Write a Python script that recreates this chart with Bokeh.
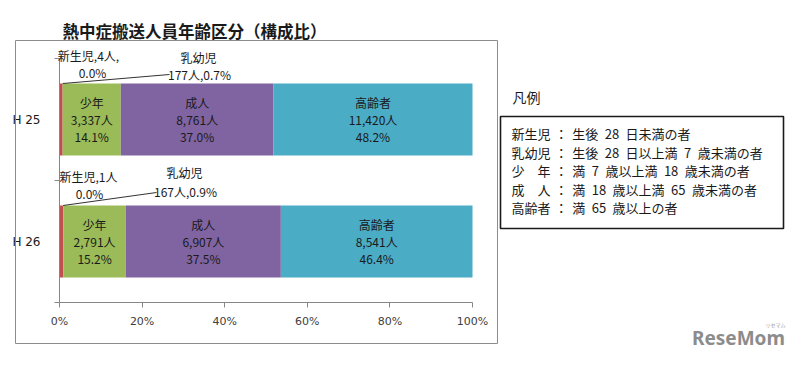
from bokeh.plotting import figure
from bokeh.models import (Range1d, FixedTicker, Label, BoxAnnotation, Arrow,
                          ColumnDataSource, PrintfTickFormatter)
from bokeh.core.properties import value
from bokeh.embed import file_html
from bokeh.resources import INLINE

# ---------------- data ----------------
years = ["H 25", "H 26"]
groups = ["新生児", "乳幼児", "少年", "成人", "高齢者"]
counts_h25 = [4, 177, 3337, 8761, 11420]
counts_h26 = [1, 167, 2791, 6907, 8541]
pct_h25 = [0.0, 0.7, 14.1, 37.0, 48.2]
pct_h26 = [0.0, 0.9, 15.2, 37.5, 46.4]
colors = ["#4F81BD", "#C0504D", "#9BBB59", "#8064A2", "#4BACC6"]
x_ticks = [0, 20, 40, 60, 80, 100]
title_text = "熱中症搬送人員年齢区分（構成比）"
legend_title = "凡例"
legend_lines = [
    "新生児\u2004：\u2004生後\u200228\u2002日未満の者",
    "乳幼児\u2004：\u2004生後\u200228\u2002日以上満\u20027\u2002歳未満の者",
    "少　年\u2004：\u2004満\u20027\u2002歳以上満\u200218\u2002歳未満の者",
    "成　人\u2004：\u2004満\u200218\u2002歳以上満\u200265\u2002歳未満の者",
    "高齢者\u2004：\u2004満\u200265\u2002歳以上の者",
]
logo_text = "ReseMom"
counts = [counts_h25, counts_h26]
pcts = [pct_h25, pct_h26]

JP = "Noto Sans CJK JP"

# ---------------- layout helpers (canvas px -> data) ----------------
W, H = 787, 349
PX_X = 4.13      # px per percent
PX_Y = 122.0     # px per category unit
ZERO_X = 59      # canvas x of 0 %
AXIS_Y = 302     # canvas y of x axis


def X(px):
    return (px - ZERO_X) / PX_X


def Y(py):
    return -0.5 + (AXIS_Y - py) / PX_Y


p = figure(width=W, height=H,
           x_range=Range1d(X(0), X(W)),
           y_range=Range1d(Y(H), Y(0)),
           output_backend="svg", toolbar_location=None,
           min_border_left=0, min_border_right=0,
           min_border_top=0, min_border_bottom=0)
p.outline_line_color = None
p.grid.visible = False
p.background_fill_color = "white"
p.border_fill_color = "white"

# ---------------- chart frame box ----------------
p.add_layout(BoxAnnotation(left=X(15), right=X(497), top=Y(40), bottom=Y(343),
                           fill_alpha=0, line_color="#8c8c8c", line_alpha=1,
                           line_width=1))

# ---------------- bars ----------------
ypos = [len(years) - 1 - i for i in range(len(years))]
bar_h = 0.59
bl, br, by, bc = [], [], [], []
tx, ty, tt = [], [], []
for yi, (cnt, pc) in enumerate(zip(counts, pcts)):
    total = sum(cnt)
    acc = 0.0
    for gi, c in enumerate(cnt):
        share = c / total * 100
        bl.append(acc)
        br.append(acc + share)
        by.append(ypos[yi])
        bc.append(colors[gi])
        if gi >= 2:
            tx.append(acc + share / 2)
            ty.append(ypos[yi])
            tt.append(f"{groups[gi]}\n{c:,}人\n{pc[gi]:.1f}%")
        acc += share

src = ColumnDataSource(dict(left=bl, right=br, y=by, color=bc))
p.hbar(y="y", left="left", right="right", height=bar_h, fill_color="color",
       line_color=None, source=src)

tsrc = ColumnDataSource(dict(x=tx, y=ty, text=tt))
p.text(x="x", y="y", text="text", source=tsrc, text_align="center",
       text_baseline="middle", text_font=value(JP), text_font_size="12px",
       text_line_height=1.0, text_color="#1a1a1a")

# ---------------- small-category labels and leader lines ----------------
small_pos = [
    {"nb": [(88, 55), (92, 72)], "inf": [(198, 57), (199, 74)],
     "inf_lead": (169, 74)},
    {"nb": [(88, 176), (89, 193)], "inf": [(184, 172), (185, 191)],
     "inf_lead": (156, 192)},
]
nb_fmt = ["{n},{c}人,", "{n},{c}人"]
for yi in range(len(years)):
    cnt, pc = counts[yi], pcts[yi]
    total = sum(cnt)
    pos = small_pos[yi]
    nb_lines = [nb_fmt[yi].format(n=groups[0], c=cnt[0]), f"{pc[0]:.1f}%"]
    inf_lines = [groups[1], f"{cnt[1]}人,{pc[1]:.1f}%"]
    for (lx, ly), t in list(zip(pos["nb"], nb_lines)) + list(zip(pos["inf"], inf_lines)):
        p.add_layout(Label(x=X(lx), y=Y(ly), text=t, text_align="center",
                           text_baseline="middle", text_font=JP,
                           text_font_size="12px", text_color="#1a1a1a"))
    top = ypos[yi] + bar_h / 2
    seg_c = (cnt[0] + cnt[1] / 2) / total * 100 + 0.4
    sx, sy = pos["inf_lead"]
    p.add_layout(Arrow(x_start=X(sx), y_start=Y(sy), x_end=seg_c, y_end=top,
                       start=None, end=None, line_color="#333333", line_width=1))

# ---------------- axes (drawn at fixed data locations inside the canvas) ----------------
xa = p.xaxis[0]
xa.fixed_location = -0.5
xa.ticker = FixedTicker(ticks=x_ticks)
xa.bounds = (0, 100)
xa.formatter = PrintfTickFormatter(format="%d%%")
xa.axis_line_color = "#868686"
xa.major_tick_line_color = "#868686"
xa.major_tick_out = 5
xa.major_tick_in = 0
xa.minor_tick_line_color = None
xa.major_label_standoff = 7
xa.major_label_text_font = "DejaVu Sans"
xa.major_label_text_font_size = "11px"
xa.major_label_text_color = "#404040"

bounds_y = [i - 0.5 for i in range(len(years) + 1)]
ya = p.yaxis[0]
ya.fixed_location = 0
ya.ticker = FixedTicker(ticks=ypos, minor_ticks=bounds_y)
ya.bounds = (bounds_y[0], bounds_y[-1])
ya.major_label_overrides = {ypos[i]: years[i] for i in range(len(years))}
ya.axis_line_color = "#868686"
ya.major_tick_line_color = None
ya.major_tick_out = 0
ya.major_tick_in = 0
ya.minor_tick_line_color = "#868686"
ya.minor_tick_out = 5
ya.minor_tick_in = 0
ya.major_label_standoff = 14
ya.major_label_text_font = "DejaVu Sans"
ya.major_label_text_font_size = "12px"
ya.major_label_text_color = "#1a1a1a"

# ---------------- title ----------------
p.add_layout(Label(x=X(62), y=Y(30), text=title_text, text_align="left",
                   text_baseline="middle", text_font=JP, text_font_size="16.5px",
                   text_font_style="bold", text_color="#1a1a1a"))

# ---------------- legend (definitions) ----------------
p.add_layout(Label(x=X(512), y=Y(96), text=legend_title, text_align="left",
                   text_baseline="middle", text_font=JP, text_font_size="14px",
                   text_color="#1a1a1a"))
p.add_layout(BoxAnnotation(left=X(500), right=X(783), top=Y(116), bottom=Y(228),
                           fill_alpha=0, line_color="#1a1a1a", line_alpha=1,
                           line_width=1.6))
for i, line in enumerate(legend_lines):
    p.add_layout(Label(x=X(511), y=Y(133 + i * 18.5), text=line,
                       text_align="left", text_baseline="middle",
                       text_font=JP, text_font_size="13px",
                       text_color="#1a1a1a"))

# ---------------- logo ----------------
p.add_layout(Label(x=X(738), y=Y(337), text=logo_text, text_align="center",
                   text_baseline="middle", text_font="Noto Sans",
                   text_font_size="19px", text_font_style="bold",
                   text_color="#8c8c8c"))
p.add_layout(Label(x=X(775), y=Y(324), text="リセマム", text_align="center",
                   text_baseline="middle", text_font=JP, text_font_size="5px",
                   text_color="#9a9a9a"))

open("out.html", "w").write(file_html(p, INLINE))
